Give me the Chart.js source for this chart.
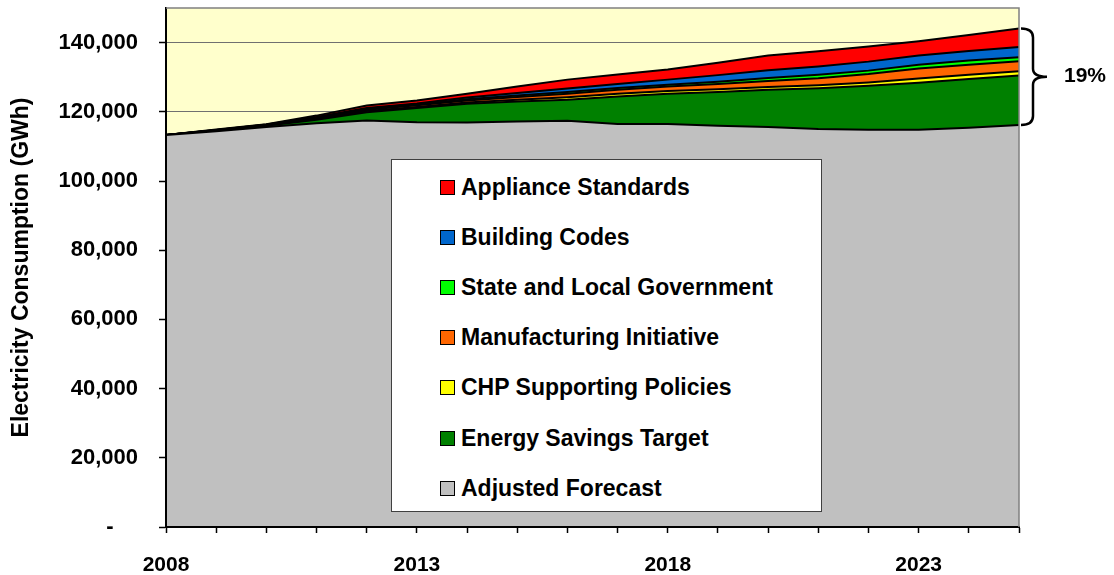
<!DOCTYPE html>
<html>
<head>
<meta charset="utf-8">
<script src="https://cdn.jsdelivr.net/npm/chart.js@4.4.1/dist/chart.umd.min.js"></script>
<style>
  body { margin: 0; background: #fff; }
  #wrap { position: relative; width: 1114px; height: 575px; }
  #legend {
    position: absolute; left: 391px; top: 159px; width: 429px; height: 351px;
    background: #fff; border: 1px solid #404040;
    font: bold 23px 'Liberation Sans', Arial, sans-serif; color: #000;
  }
  #legend .item { position: absolute; left: 48px; height: 26px; display: flex; align-items: center; }
  #legend .sw { width: 13px; height: 13px; border: 1px solid #000; margin-right: 6px; }
</style>
</head>
<body>
<div id="wrap">
  <canvas id="chart" width="1114" height="575"></canvas>
  <div id="legend"></div>
</div>
<script>
// ── data (GWh) ─────────────────────────────
const years = ['2008','2009','2010','2011','2012','2013','2014','2015','2016',
               '2017','2018','2019','2020','2021','2022','2023','2024','2025'];

const adjustedForecast   = [113300,114400,115600,116700,117500,117000,116900,117200,117400,116500,116500,116000,115600,115000,114800,114800,115400,116200];
const energySavings      = [0,200,400,1000,2400,4100,5400,5800,6100,7900,8700,9700,10800,11800,12700,13600,14100,14300];
const chpPolicies        = [0,50,100,200,300,300,400,500,700,800,800,800,800,900,1000,1200,1200,1200];
const manufacturing      = [0,50,100,300,400,500,600,800,1000,1200,1300,1500,1700,2000,2400,2900,2900,2900];
const stateLocal         = [0,20,50,100,200,200,300,400,500,500,500,700,900,1000,1000,1100,1200,1200];
const buildingCodes      = [0,30,50,200,300,300,500,700,1000,1100,1500,1900,2200,2400,2600,2700,2800,2900];
const applianceStandards = [0,100,100,400,700,900,1100,1900,2600,2800,2900,3600,4300,4400,4400,4100,4600,5400];

const yTicks = [0, 20000, 40000, 60000, 80000, 100000, 120000, 140000];

const FONT = "'Liberation Sans', Arial, sans-serif";

// bottom to top
const layers = [
  { label: 'Adjusted Forecast',           data: adjustedForecast,   color: '#C0C0C0' },
  { label: 'Energy Savings Target',       data: energySavings,      color: '#008000' },
  { label: 'CHP Supporting Policies',     data: chpPolicies,        color: '#FFFF00' },
  { label: 'Manufacturing Initiative',    data: manufacturing,      color: '#FF6600' },
  { label: 'State and Local Government',  data: stateLocal,         color: '#00FF00' },
  { label: 'Building Codes',              data: buildingCodes,      color: '#0066CC' },
  { label: 'Appliance Standards',         data: applianceStandards, color: '#FF0000' }
];

// ── plugins ────────────────────────────────
const plotBg = {
  id: 'plotBg',
  beforeDraw(chart) {
    const { ctx, chartArea: a } = chart;
    ctx.save();
    ctx.fillStyle = '#fff';
    ctx.fillRect(0, 0, chart.width, chart.height);
    ctx.fillStyle = '#FFFFCC';
    ctx.fillRect(a.left, a.top, a.right - a.left, a.bottom - a.top);
    ctx.restore();
  },
  afterDraw(chart) {
    const { ctx, chartArea: a, scales } = chart;
    ctx.save();
    // top + right frame
    ctx.strokeStyle = '#808080';
    ctx.lineWidth = 1.5;
    ctx.beginPath();
    ctx.moveTo(a.left, a.top);
    ctx.lineTo(a.right, a.top);
    ctx.lineTo(a.right, a.bottom);
    ctx.stroke();

    // bracket on the last year: savings share
    const last = years.length - 1;
    const total = layers.reduce((s, l) => s + l.data[last], 0);
    const base = adjustedForecast[last];
    const yTop = scales.y.getPixelForValue(total);
    const yBot = scales.y.getPixelForValue(base);
    const yMid = (yTop + yBot) / 2;
    const x0 = scales.x.getPixelForValue(last) + 2;
    const xv = x0 + 12;
    ctx.strokeStyle = '#000';
    ctx.lineWidth = 2.5;
    ctx.beginPath();
    ctx.moveTo(x0, yTop);
    ctx.quadraticCurveTo(xv, yTop, xv, yTop + 9);
    ctx.lineTo(xv, yMid - 8);
    ctx.quadraticCurveTo(xv, yMid, xv + 14, yMid);
    ctx.quadraticCurveTo(xv, yMid, xv, yMid + 8);
    ctx.lineTo(xv, yBot - 9);
    ctx.quadraticCurveTo(xv, yBot, x0, yBot);
    ctx.stroke();

    ctx.fillStyle = '#000';
    ctx.font = 'bold 21px ' + FONT;
    ctx.textAlign = 'left';
    ctx.textBaseline = 'middle';
    ctx.fillText(Math.round((total - base) / total * 100) + '%', 1064, yMid);
    ctx.restore();
  }
};

// ── chart ──────────────────────────────────
new Chart(document.getElementById('chart'), {
  type: 'line',
  data: {
    labels: years,
    datasets: layers.map((l, i) => ({
      label: l.label,
      data: l.data,
      backgroundColor: l.color,
      borderColor: '#000',
      borderWidth: 2,
      pointRadius: 0,
      tension: 0,
      fill: i === 0 ? 'origin' : '-1'
    }))
  },
  options: {
    responsive: false,
    animation: false,
    layout: { padding: { top: 8, right: 95, left: 0, bottom: 0 } },
    plugins: {
      legend: { display: false },
      tooltip: { enabled: false }
    },
    scales: {
      x: {
        type: 'category',
        offset: false,
        afterFit: s => { s.height = 48; s.paddingLeft = 0; s.paddingRight = 0; },
        grid: { offset: false, drawOnChartArea: false, drawTicks: true, tickLength: 6, tickColor: '#000', tickWidth: 1.5 },
        border: { color: '#000', width: 2, z: 2 },
        ticks: {
          autoSkip: false, maxRotation: 0, padding: 20,
          font: { family: FONT, size: 21, weight: 'bold' }, color: '#000',
          callback: (v, i) => (i % 5 === 0 ? years[i] : '')
        }
      },
      y: {
        stacked: true,
        min: 0,
        max: 150000,
        afterFit: s => { s.width = 166; s.paddingTop = 0; s.paddingBottom = 0; },
        afterBuildTicks: s => { s.ticks = yTicks.map(v => ({ value: v })); },
        grid: { color: '#707070', lineWidth: 1, tickLength: 7, tickColor: '#000', tickWidth: 1.5 },
        border: { color: '#000', width: 2, z: 2 },
        ticks: {
          padding: 21,
          font: { family: FONT, size: 22, weight: 'bold' }, color: '#000',
          callback: v => (v === 0 ? '-    ' : v.toLocaleString('en-US'))
        },
        title: {
          display: true,
          text: 'Electricity Consumption (GWh)',
          font: { family: FONT, size: 23, weight: 'bold' }, color: '#000',
          padding: { top: 8, bottom: 0 }
        }
      }
    }
  },
  plugins: [plotBg]
});

// ── legend (top layer first) ───────────────
const legendEl = document.getElementById('legend');
layers.slice().reverse().forEach((l, i) => {
  const item = document.createElement('div');
  item.className = 'item';
  item.style.top = (14 + i * 50.2) + 'px';
  item.innerHTML = '<span class="sw" style="background:' + l.color + '"></span><span>' + l.label + '</span>';
  legendEl.appendChild(item);
});
</script>
</body>
</html>
